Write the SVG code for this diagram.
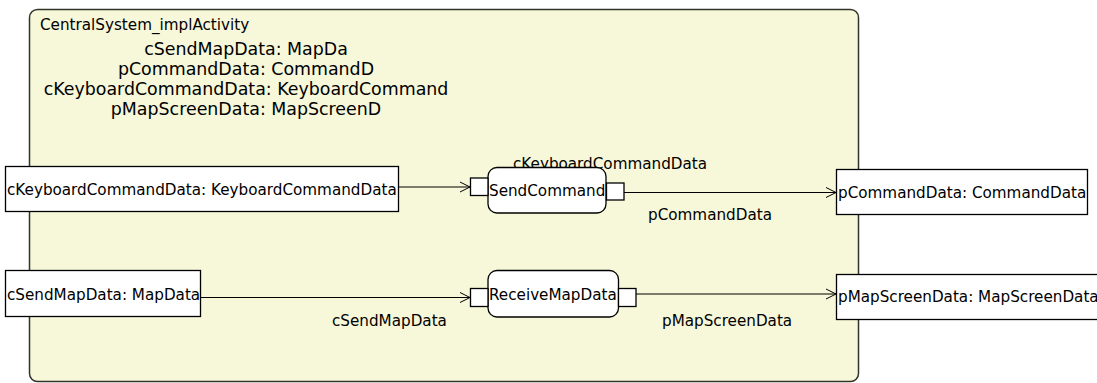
<svg xmlns="http://www.w3.org/2000/svg" width="1097" height="383" viewBox="0 0 1097 383">
<defs>
<marker id="arr" markerWidth="12" markerHeight="12" refX="11" refY="6" orient="auto" markerUnits="userSpaceOnUse">
<path d="M1,1 L11,6 L1,11" fill="none" stroke="#000" stroke-width="1"/>
</marker>
<style>
text{font-family:"DejaVu Sans",sans-serif;fill:#000}
.obj{fill:#fff;stroke:#000;stroke-width:1.3}
.pin{fill:#fff;stroke:#000;stroke-width:1.3}
.act{fill:#fff;stroke:#000;stroke-width:1.3}
.edge{fill:none;stroke:#000;stroke-width:1.2;marker-end:url(#arr)}
.lbl{font-size:15.2px}
.prop{font-size:17.4px;text-anchor:middle}
</style>
</defs>
<rect width="1097" height="383" fill="#fff"/>
<g id="container">
<rect x="29.5" y="9.5" width="829" height="372" rx="8" ry="8" fill="#f7f7d9" stroke="#33332a" stroke-width="1.5"/>
<text x="40" y="30" font-size="15.2">CentralSystem_implActivity</text>
<text class="prop" x="246" y="55">cSendMapData: MapDa</text>
<text class="prop" x="246" y="75">pCommandData: CommandD</text>
<text class="prop" x="246" y="95">cKeyboardCommandData: KeyboardCommand</text>
<text class="prop" x="246" y="115">pMapScreenData: MapScreenD</text>
</g>
<g id="connectors">
<line class="edge" x1="398" y1="187" x2="470" y2="187"/>
<line class="edge" x1="624" y1="192.5" x2="836" y2="192.5"/>
<line class="edge" x1="201" y1="297.5" x2="470" y2="297.5"/>
<line class="edge" x1="636" y1="294" x2="836" y2="294"/>
<text class="lbl" x="513" y="169">cKeyboardCommandData</text>
<text class="lbl" x="648" y="220">pCommandData</text>
<text class="lbl" x="332" y="326">cSendMapData</text>
<text class="lbl" x="662" y="326">pMapScreenData</text>
</g>
<g id="cKeyboardCommandData">
<rect class="obj" x="5.5" y="166.5" width="393" height="45"/>
<text class="lbl" x="7" y="195">cKeyboardCommandData: KeyboardCommandData</text>
</g>
<g id="pCommandData">
<rect class="obj" x="836.5" y="169.5" width="251" height="45"/>
<text class="lbl" x="838" y="198">pCommandData: CommandData</text>
</g>
<g id="cSendMapData">
<rect class="obj" x="5.5" y="270.5" width="195" height="46"/>
<text class="lbl" x="7" y="300">cSendMapData: MapData</text>
</g>
<g id="pMapScreenData">
<rect class="obj" x="836.5" y="274.5" width="270" height="45"/>
<text class="lbl" x="838" y="302">pMapScreenData: MapScreenData</text>
</g>
<g id="SendCommand">
<rect class="act" x="488" y="167.5" width="118" height="45.5" rx="9" ry="9"/>
<text class="lbl" x="489" y="196">SendCommand</text>
<rect class="pin" x="470.5" y="178" width="17.5" height="17.5"/>
<rect class="pin" x="606.5" y="183" width="17.5" height="17"/>
</g>
<g id="ReceiveMapData">
<rect class="act" x="488" y="270.5" width="130.5" height="46.5" rx="9" ry="9"/>
<text class="lbl" x="489" y="300">ReceiveMapData</text>
<rect class="pin" x="470.5" y="288.5" width="17.5" height="18"/>
<rect class="pin" x="618.5" y="288.5" width="17.5" height="18"/>
</g>
</svg>
